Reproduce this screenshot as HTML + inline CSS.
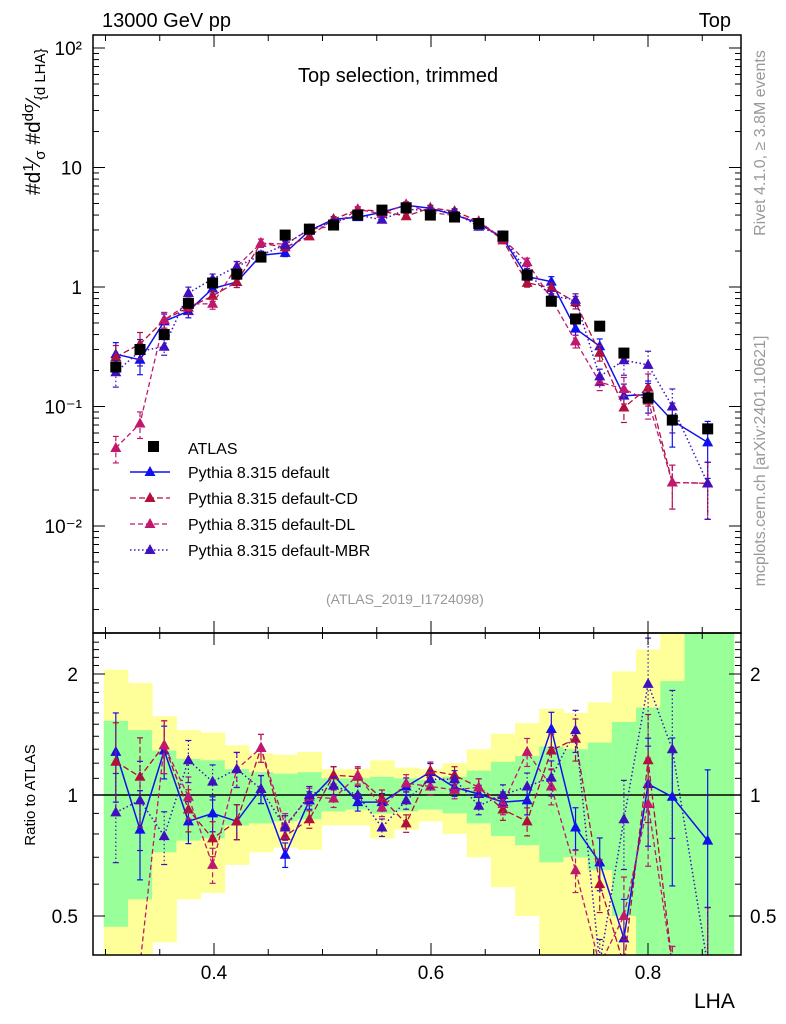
<!DOCTYPE html>
<html style="width:786px;height:1024px;overflow:hidden"><head><meta charset="utf-8"><style>
html,body{margin:0;padding:0;background:#fff;width:786px;height:1024px;overflow:hidden;}
svg{display:block;font-family:"Liberation Sans",sans-serif;}
</style></head><body>
<svg id="c" width="786" height="1024" xmlns="http://www.w3.org/2000/svg">
<text x="102" y="27" font-size="20">13000 GeV pp</text>
<text x="731" y="27" font-size="20" text-anchor="end">Top</text>
<text x="298" y="82" font-size="20">Top selection, trimmed</text>
<text x="326" y="604" font-size="14" fill="#999">(ATLAS_2019_I1724098)</text>
<text transform="translate(40,195) rotate(-90)" font-size="21">#d<tspan font-size="15" dy="-7">1</tspan><tspan dy="7">⁄</tspan><tspan font-size="15" dy="5">σ</tspan><tspan dy="-5"> #d</tspan><tspan font-size="15" dy="-7">dσ</tspan><tspan dy="7">⁄</tspan><tspan font-size="15" dy="5">{d LHA}</tspan></text>
<text transform="translate(35,795) rotate(-90)" font-size="15" text-anchor="middle">Ratio to ATLAS</text>
<text x="694" y="1008" font-size="21">LHA</text>
<text transform="translate(765,143) rotate(-90)" font-size="16" fill="#999" text-anchor="middle">Rivet 4.1.0, ≥ 3.8M events</text>
<text transform="translate(765,461) rotate(-90)" font-size="16" fill="#999" text-anchor="middle">mcplots.cern.ch [arXiv:2401.10621]</text>
</svg>
<script>
const xs = [0.3095,0.3318,0.3541,0.3764,0.3987,0.4210,0.4433,0.4656,0.4879,0.5102,0.5325,0.5548,0.5771,0.5994,0.6217,0.6440,0.6663,0.6886,0.7109,0.7332,0.7555,0.7778,0.8001,0.8224,0.855];
const binLo = [0.2984,0.3207,0.3430,0.3653,0.3876,0.4099,0.4322,0.4545,0.4768,0.4991,0.5214,0.5437,0.5660,0.5883,0.6106,0.6329,0.6552,0.6775,0.6998,0.7221,0.7444,0.7667,0.7890,0.8113,0.8336];
const binHi = [0.3207,0.3430,0.3653,0.3876,0.4099,0.4322,0.4545,0.4768,0.4991,0.5214,0.5437,0.5660,0.5883,0.6106,0.6329,0.6552,0.6775,0.6998,0.7221,0.7444,0.7667,0.7890,0.8113,0.8336,0.8790];
const atlas = [0.214,0.30,0.40,0.73,1.08,1.28,1.78,2.72,3.05,3.3,4.0,4.4,4.6,4.0,3.85,3.4,2.67,1.26,0.76,0.54,0.47,0.28,0.118,0.077,0.065];
const rDefault = [1.28,0.82,1.29,0.86,0.90,0.86,1.035,0.71,0.97,1.12,0.96,0.96,1.05,1.14,1.045,1.006,0.96,0.97,1.46,0.83,0.68,0.44,1.065,0.99,0.77];
const rCD = [1.21,1.11,1.33,0.92,0.78,0.86,1.31,0.79,0.87,1.12,1.11,0.98,0.85,1.15,1.12,1.045,0.92,0.86,1.29,1.38,0.6,0.35,1.22,0.3,0.35];
const rDL = [0.21,0.24,1.33,0.99,0.67,1.16,1.31,0.84,0.99,0.98,1.12,0.93,1.07,1.05,1.03,1.045,0.95,1.28,1.05,0.65,0.34,0.5,0.95,0.3,0.35];
const rMBR = [0.905,0.97,0.79,1.22,1.08,1.16,1.035,0.83,1.0,1.055,1.0,0.83,0.97,1.095,1.095,0.94,1.0,1.05,1.105,1.45,0.38,0.87,1.89,1.30,0.35];
const relErr = [0.25,0.25,0.15,0.12,0.1,0.1,0.08,0.07,0.05,0.05,0.05,0.05,0.05,0.05,0.05,0.05,0.06,0.08,0.1,0.12,0.15,0.25,0.3,0.4,0.5];
const gUp = [1.53,1.45,1.29,1.23,1.22,1.16,1.14,1.13,1.14,1.10,1.10,1.11,1.10,1.09,1.11,1.15,1.21,1.25,1.32,1.30,1.35,1.52,1.65,1.92,3];
const gLo = [0.47,0.55,0.72,0.77,0.78,0.84,0.85,0.86,0.87,0.91,0.92,0.90,0.91,0.92,0.90,0.85,0.79,0.75,0.68,0.70,0.65,0.50,0.3,0.3,0.3];
const yUp = [2.05,1.90,1.57,1.45,1.43,1.33,1.27,1.26,1.28,1.16,1.16,1.22,1.17,1.16,1.20,1.30,1.42,1.51,1.64,1.60,1.70,2.03,2.30,3,3];
const yLo = [0.3,0.3,0.43,0.55,0.57,0.67,0.72,0.74,0.73,0.84,0.84,0.78,0.82,0.86,0.80,0.70,0.59,0.50,0.3,0.3,0.3,0.3,0.3,0.3,0.3];
const xTicks = [0.4,0.6,0.8];
const yTickLabels = ["10²","10","1","10⁻¹","10⁻²"];
const rTicks = [2,1,0.5];

const NS="http://www.w3.org/2000/svg", svg=document.getElementById('c');
const L=93,R=741,T=35,M=633,B=955;
const cl=(v,a,b)=>Math.max(a,Math.min(b,v));
const X=v=>214+(v-0.4)*1085;
const Y=v=>cl(287-Math.log10(v)*119.5,T-10,M+10);
const RY=v=>cl(795-Math.log2(v)*121,M-10,B+10);
function el(t,a,p){const e=document.createElementNS(NS,t);for(const k in a)e.setAttribute(k,a[k]);(p||svg).appendChild(e);return e;}
function txt(s,a,p){const e=el('text',a,p);e.textContent=s;return e;}
const clipM=el('clipPath',{id:'cm'});el('rect',{x:L,y:T,width:R-L,height:M-T},clipM);
const clipR=el('clipPath',{id:'cr'});el('rect',{x:L,y:M,width:R-L,height:B-M},clipR);
const gBand=el('g',{'clip-path':'url(#cr)'});


for(let i=0;i<xs.length;i++){
 const yb=el('rect',{x:X(binLo[i]),y:RY(yUp[i]),width:Math.min(X(binHi[i]),R)-X(binLo[i])+0.5,height:RY(yLo[i])-RY(yUp[i]),fill:'#ffff99'},gBand);
 
 
 const gb=el('rect',{x:X(binLo[i]),y:RY(gUp[i]),width:Math.min(X(binHi[i]),R)-X(binLo[i])+0.5,height:RY(gLo[i])-RY(gUp[i]),fill:'#99ff99'},gBand);
 
 
}
el('line',{x1:L,x2:R,y1:RY(1),y2:RY(1),stroke:'#000','stroke-width':1.5});
const series=[
 {name:'default',r:rDefault,c:'#1111ee',d:'',w:1.5,label:'Pythia 8.315 default'},
 {name:'default-cd',r:rCD,c:'#b0103a',d:'6,3',w:1.3,label:'Pythia 8.315 default-CD'},
 {name:'default-dl',r:rDL,c:'#c0186e',d:'5,3',w:1.3,label:'Pythia 8.315 default-DL'},
 {name:'default-mbr',r:rMBR,c:'#4010c0',d:'1.5,2.5',w:1.5,label:'Pythia 8.315 default-MBR'}];
function tri(g,x,y,c){return el('path',{d:`M${x},${y-6}L${x+5.5},${y+4}L${x-5.5},${y+4}Z`,fill:c},g);}
series.forEach(s=>{
 ['main','ratio'].forEach(panel=>{
  const g=el('g',{'clip-path':panel=='main'?'url(#cm)':'url(#cr)'});
  
  
  const yf=panel=='main'?(i=>Y(atlas[i]*s.r[i])):(i=>RY(s.r[i]));
  const yfv=panel=='main'?(v=>Y(v)):(v=>RY(v));
  let d='';
  xs.forEach((x,i)=>{d+=(i?'L':'M')+X(x).toFixed(1)+','+yf(i).toFixed(1);});
  el('path',{d:d,fill:'none',stroke:s.c,'stroke-width':s.w,'stroke-dasharray':s.d},g);
  xs.forEach((x,i)=>{
   const v=panel=='main'?atlas[i]*s.r[i]:s.r[i];
   const e=relErr[i];
   const y1=yfv(v*(1+e)), y2=yfv(Math.max(v*(1-e),1e-4));
   el('line',{x1:X(x),x2:X(x),y1:y1,y2:y2,stroke:s.c,'stroke-width':1.2,'stroke-dasharray':s.d},g);
   el('line',{x1:X(x)-3,x2:X(x)+3,y1:y1,y2:y1,stroke:s.c,'stroke-width':1.2},g);
   el('line',{x1:X(x)-3,x2:X(x)+3,y1:y2,y2:y2,stroke:s.c,'stroke-width':1.2},g);
   const m=tri(g,X(x),yf(i),s.c);
   
   
  });
 });
});
const ga=el('g',{'clip-path':'url(#cm)'});


xs.forEach((x,i)=>{
 el('line',{x1:X(x),x2:X(x),y1:Y(atlas[i]*1.06),y2:Y(atlas[i]*0.94),stroke:'#000','stroke-width':1.2},ga);
 const r=el('rect',{x:X(x)-5.5,y:Y(atlas[i])-5.5,width:11,height:11,fill:'#000'},ga);
 
 
});
el('rect',{x:L,y:T,width:R-L,height:M-T,fill:'none',stroke:'#000','stroke-width':1.5});
el('rect',{x:L,y:M,width:R-L,height:B-M,fill:'none',stroke:'#000','stroke-width':1.5});
for(let v=0.3;v<=0.88;v+=0.05){
 const vv=Math.round(v*100)/100, major=xTicks.some(t=>Math.abs(t-vv)<1e-6), h=major?12:6, x=X(vv);
 [T,M].forEach(y=>el('line',{x1:x,x2:x,y1:y,y2:y+h,stroke:'#000'}));
 [M,B].forEach(y=>el('line',{x1:x,x2:x,y1:y,y2:y-h,stroke:'#000'}));
}
xTicks.forEach(t=>{const e=txt(t.toFixed(1),{x:X(t),y:979,'font-size':19,'text-anchor':'middle'});});
for(let p=-3;p<=2;p++){for(let k=1;k<10;k++){const v=k*Math.pow(10,p),y=287-Math.log10(v)*119.5;if(y<T||y>M)continue;const h=k==1?12:6;
 el('line',{x1:L,x2:L+h,y1:y,y2:y,stroke:'#000'});el('line',{x1:R,x2:R-h,y1:y,y2:y,stroke:'#000'});}}
[2,1,0,-1,-2].forEach((p,i)=>{const e=txt(yTickLabels[i],{x:82,y:Y(Math.pow(10,p))+7,'font-size':19,'text-anchor':'end'});});
for(let v=0.4;v<=2.5;v+=0.1){const y=795-Math.log2(v)*121;if(y<M||y>B)continue;const maj=[0.5,1,2].some(t=>Math.abs(t-v)<1e-6);const h=maj?12:6;
 el('line',{x1:L,x2:L+h,y1:y,y2:y,stroke:'#000'});el('line',{x1:R,x2:R-h,y1:y,y2:y,stroke:'#000'});}
rTicks.forEach(t=>{const a=txt(String(t),{x:78,y:RY(t)+7,'font-size':19,'text-anchor':'end'});
 const b=txt(String(t),{x:750,y:RY(t)+7,'font-size':19});});
const lg=el('g',{});


el('rect',{x:148,y:441,width:11,height:11,fill:'#000'},lg);
txt('ATLAS',{x:188,y:454,'font-size':16},lg);
series.forEach((s,i)=>{const y=472+i*26;
 el('line',{x1:130,x2:170,y1:y,y2:y,stroke:s.c,'stroke-width':s.w,'stroke-dasharray':s.d},lg);
 tri(lg,150,y,s.c);
 txt(s.label,{x:188,y:y+6,'font-size':16},lg);});
</script>
</body></html>
